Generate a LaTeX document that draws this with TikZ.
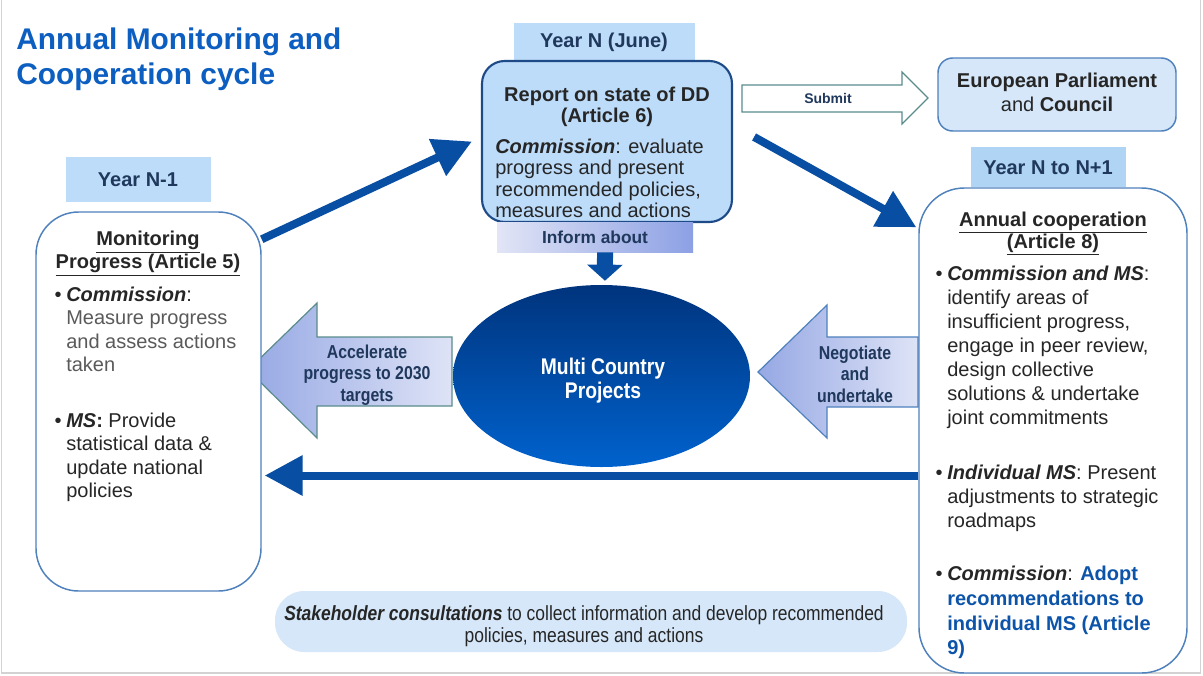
\documentclass[tikz,border=0pt]{standalone}
\usepackage{fontspec}
\setmainfont{Liberation Sans}
\newfontfamily\narrowsans{Liberation Sans}[FakeStretch=0.85]
\usetikzlibrary{arrows.meta,shapes.geometric,fit}

\definecolor{titleblue}{RGB}{12,94,192}
\definecolor{navy}{RGB}{31,56,92}
\definecolor{yearfill}{RGB}{189,220,250}
\definecolor{yearfilldark}{RGB}{176,212,244}
\definecolor{reportline}{RGB}{30,75,135}
\definecolor{boxline}{RGB}{79,129,189}
\definecolor{paleblue}{RGB}{213,231,248}
\definecolor{arrowblue}{RGB}{8,78,162}
\definecolor{ellipsetop}{RGB}{0,52,125}
\definecolor{ellipsebot}{RGB}{0,98,205}
\definecolor{lavdark}{RGB}{150,168,228}
\definecolor{lavlight}{RGB}{222,227,246}
\definecolor{informleft}{RGB}{226,229,246}
\definecolor{informright}{RGB}{140,160,228}
\definecolor{tealline}{RGB}{90,140,140}
\definecolor{bodytext}{RGB}{38,38,38}
\definecolor{greytext}{RGB}{90,90,90}
\definecolor{linkblue}{RGB}{12,84,170}

\tikzset{
  yearbox/.style={fill=yearfill, inner sep=0pt},
  yeartext/.style={inner sep=0pt, text=navy, font=\fontsize{15}{18}\selectfont\bfseries},
  roundbox/.style={draw=boxline, line width=1.1pt, fill=white,
    rounded corners=32pt, inner sep=0pt},
  bigarrow/.style={draw=arrowblue, line width=6pt,
    -{Triangle[length=28.5pt,width=29pt]}},
  blockarrow/.style={shading=axis, left color=lavdark, right color=lavlight,
    line width=0.9pt},
  body/.style={inner sep=0pt, anchor=north west, align=left, text=bodytext,
    font=\fontsize{15}{17.75}\selectfont},
  heading/.style={inner sep=0pt, align=center, text=bodytext,
    font=\fontsize{15}{15.5}\selectfont\bfseries},
  arrowtext/.style={inner sep=0pt, align=center, text=navy,
    font=\narrowsans\fontsize{14}{16}\selectfont\bfseries},
}
\newcommand{\bul}{\llap{\textbullet\hspace{3.5pt}}}

\begin{document}
\begin{tikzpicture}[x=0.75pt, y=-0.75pt]
  \useasboundingbox (0,0) rectangle (1203,675);
  \fill[white] (0,0) rectangle (1203,675);
  \draw[gray!35, line width=1.2pt] (1.5,0) -- (1.5,673) -- (1200.5,673) -- (1200.5,0); % frame
  %
  \node[anchor=north west, inner sep=0pt, align=left, text=titleblue,
        font=\fontsize{22.4}{26.25}\selectfont\bfseries] (title) at (16,27.5)
        {Annual Monitoring and\\Cooperation cycle};
  %
  % block arrows, behind the boxes
  \draw[blockarrow, draw=tealline] (248,370) -- (317,303) -- (317,337) -- (452,337)
        -- (452,406) -- (317,406) -- (317,438) -- cycle;
  \draw[blockarrow, draw=boxline] (758,372) -- (827,305) -- (827,337) -- (918,337)
        -- (918,407) -- (827,407) -- (827,438) -- cycle;
  \draw[draw=tealline, fill=white, line width=0.9pt] (742,85) -- (902,85) -- (902,72)
        -- (928,98) -- (902,124) -- (902,112) -- (742,112) -- cycle;
  \node[arrowtext] (accel) at (367,375) {Accelerate\\progress to 2030\\targets};
  \node[arrowtext] (negot) at (855,374) {Negotiate\\and\\undertake};
  \node[arrowtext, font=\fontsize{10.5}{12}\selectfont\bfseries] (submit) at (828,98) {Submit};
  %
  % left column
  \node[yearbox, fit={(66,157) (211,202)}] (yrprev) {};
  \node[yeartext] (yrprevtext) at (138,180) {Year N-1};
  \node[roundbox, fit={(36,212) (261,591)}] (mon) {};
  \node[heading] (montitle) at (148,253.5) {\underline{Monitoring}\\\underline{Progress (Article 5)}};
  \node[body, font=\fontsize{15}{17.6}\selectfont] (mona) at (66,286.5)
        {\bul\textbf{\textit{Commission}}:\\\textcolor{greytext}{Measure progress}\\
         \textcolor{greytext}{and assess actions}\\\textcolor{greytext}{taken}};
  \node[body, font=\fontsize{15}{17.6}\selectfont] (monb) at (66,412.5)
        {\bul\textbf{\textit{MS}:} Provide\\statistical data \&\\update national\\policies};
  %
  % middle column
  \node[yearbox, fit={(514,23) (695,60)}] (yrn) {};
  \node[yeartext] (yrntext) at (604,42) {Year N (June)};
  \node[draw=reportline, fill=yearfill, line width=1.6pt, rounded corners=17pt,
        inner sep=0pt, fit={(482,61) (732,222)}] (report) {};
  \node[heading, font=\fontsize{15}{15.75}\selectfont\bfseries] (reptitle) at (607,107)
        {Report on state of DD\\(Article 6)};
  \node[body, font=\fontsize{15}{15.9}\selectfont] (repbody) at (495,139)
        {\textbf{\textit{Commission}}: evaluate\\progress and present\\
         recommended policies,\\measures and actions};
  \node[shading=axis, left color=informleft, right color=informright, inner sep=0pt,
        fit={(497,222) (693,252)}] (inform) {};
  \node[inner sep=0pt, text=navy, font=\fontsize{13}{15}\selectfont\bfseries]
        (informtext) at (595,237.5) {Inform about};
  \node[ellipse, top color=ellipsetop, bottom color=ellipsebot, minimum width=222.75pt,
        minimum height=136.5pt, inner sep=0pt] (mcp) at (601.5,376) {};
  \node[inner sep=0pt, align=center, text=white,
        font=\narrowsans\fontsize{17}{17.5}\selectfont\bfseries] (mcptext) at (603,380.5)
        {Multi Country\\Projects};
  \draw[arrowblue, line width=12pt, -{Triangle[length=12pt,width=26pt]}]
        ([xshift=7.5pt]inform.south) -- ([shift={(2.6pt,3pt)}]mcp.north);
  \node[fill=paleblue, rounded corners=22pt, inner sep=0pt, fit={(275,591) (907,652)}] (stake) {};
  \node[inner sep=0pt, align=center, text=bodytext,
        font=\narrowsans\fontsize{15.4}{16.5}\selectfont] (staketext) at (584,626.5)
        {\textbf{\textit{Stakeholder consultations}} to collect information and develop recommended\\
         policies, measures and actions};
  %
  % right column
  \node[draw=boxline, fill=paleblue, line width=1.1pt, rounded corners=11pt, inner sep=0pt,
        fit={(938,58) (1176,131)}] (ep) {};
  \node[inner sep=0pt, align=center, text=bodytext, font=\fontsize{15}{18}\selectfont]
        (eptext) at (1057,92.5) {\textbf{European Parliament}\\and \textbf{Council}};
  \node[yearbox, fill=yearfilldark, fit={(971,147) (1126,187)}] (yrnext) {};
  \node[yeartext] (yrnexttext) at (1048,168) {Year N to N+1};
  \node[roundbox, rounded corners=34pt, fit={(919,188) (1187,673)}] (coop) {};
  \node[heading, font=\fontsize{15}{15}\selectfont\bfseries] (cooptitle) at (1053,233.5)
        {\underline{Annual cooperation}\\\underline{(Article 8)}};
  \node[body, font=\fontsize{15}{18}\selectfont] (coopa) at (947,266)
        {\bul\textbf{\textit{Commission and MS}}:\\identify areas of\\insufficient progress,\\
         engage in peer review,\\design collective\\solutions \& undertake\\joint commitments};
  \node[body, font=\fontsize{15}{18}\selectfont] (coopb) at (947,465)
        {\bul\textbf{\textit{Individual MS}}: Present\\adjustments to strategic\\roadmaps};
  \node[body, font=\fontsize{15}{18.5}\selectfont] (coopc) at (947,566)
        {\bul\textbf{\textit{Commission}}: \textcolor{linkblue}{\textbf{Adopt}}\\
         \textcolor{linkblue}{\textbf{recommendations to}}\\
         \textcolor{linkblue}{\textbf{individual MS (Article}}\\
         \textcolor{linkblue}{\textbf{9)}}};
  %
  % cycle arrows
  \draw[bigarrow] ([yshift=-21pt]mon.north east) -- ([xshift=-6.75pt]report.west);
  \draw[bigarrow] ([shift={(15.75pt,3.4pt)}]report.east) -- ([shift={(-1.5pt,-30pt)}]coop.north west);
  \draw[bigarrow] ([yshift=-33.75pt]coop.west) -- ([shift={(2.25pt,-55.5pt)}]mon.east);
\end{tikzpicture}
\end{document}
